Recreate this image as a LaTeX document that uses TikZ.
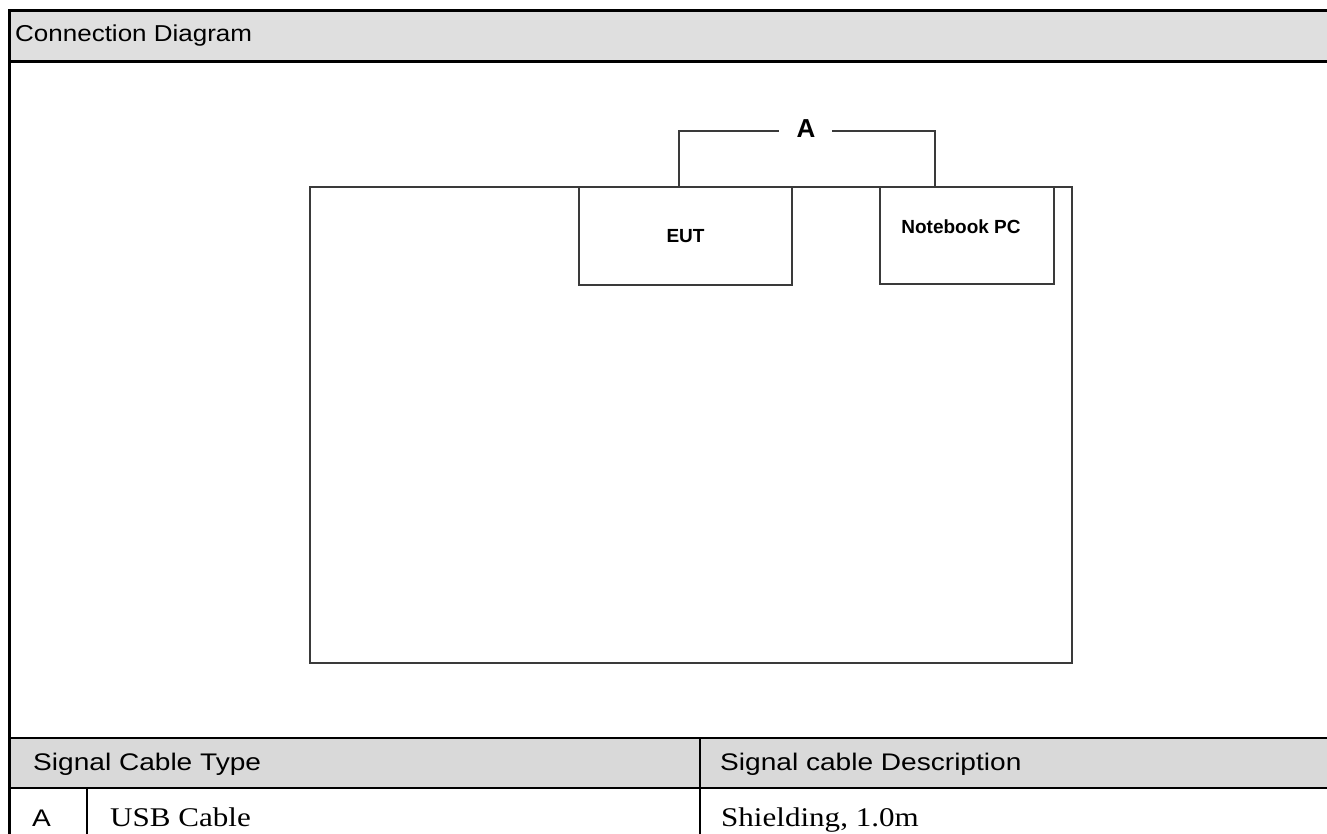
\documentclass[tikz,border=0pt]{standalone}
\usepackage{graphicx}
\usepackage{fontspec}
\setmainfont{Liberation Serif}
\setsansfont{Liberation Sans}
\usetikzlibrary{positioning}
\definecolor{hdrgray}{HTML}{DFDFDF}
\definecolor{tblgray}{HTML}{D9D9D9}
\definecolor{boxgray}{HTML}{3A3A3A}
\newcommand{\wide}[2][1.17]{\scalebox{#1}[1]{#2}}
\tikzset{
  cable/.style={draw=boxgray,line width=1.5pt},
  rule/.style={draw=black,line width=2.2pt},
  celltext/.style={anchor=base west,inner sep=0pt,font=\sffamily\fontsize{24}{28}\selectfont},
  celldata/.style={anchor=base west,inner sep=0pt,font=\rmfamily\fontsize{27}{30}\selectfont},
}
\begin{document}
\begin{tikzpicture}[x=1pt,y=-1pt]
        \useasboundingbox (0,0) rectangle (1327,834);
        % bands
        \fill[hdrgray] (10,11) rectangle (1327,61);
        \fill[tblgray] (10,738) rectangle (1327,788);
        % frame and table rules
        \draw[line width=3pt] (9.5,834) -- (9.5,11) -- (1327,11);
        \draw[rule] (10,61.5) -- (1327,61.5);
        \draw[rule] (10,738) -- (1327,738);
        \draw[rule] (10,788) -- (1327,788);
        \draw[rule] (87,788) -- (87,834);
        \draw[rule] (700,738) -- (700,834);
        \node[anchor=base west,inner sep=0pt,font=\sffamily\fontsize{23}{26}\selectfont] (title) at (15,42) {\wide[1.13]{Connection Diagram}};
        \begin{scope}[every node/.style={draw=boxgray,line width=1.5pt,inner sep=0pt,font=\sffamily\bfseries\fontsize{19}{22}\selectfont}]
          \node[minimum width=762pt,minimum height=476pt] (bench) at (691,425) {};
          \node[minimum width=213pt,minimum height=98pt] (EUT) at (685.5,236) {EUT};
          \node[minimum width=174pt,minimum height=97pt] (PC) at (967,235.5) {};
        \end{scope}
        \node[inner sep=0pt,font=\sffamily\bfseries\fontsize{19}{22}\selectfont] (PClabel) at (961,227) {Notebook PC};
        \node[anchor=base,inner sep=0pt,font=\sffamily\bfseries\fontsize{26}{28}\selectfont] (A) at (806,138) {A};
        \coordinate (eutport) at (679,187);
        \coordinate (pcport) at (935,187);
        \coordinate (aL) at (779,131);
        \coordinate (aR) at (832,131);
        \draw[cable] (eutport) |- (aL);
        \draw[cable] (aR) -| (pcport);
        % table cells
        \node[celltext] (typehead) at (33,770) {\wide{Signal Cable Type}};
        \node[celltext] (deschead) at (720,770) {\wide{Signal cable Description}};
        \node[celltext] (typeA) at (32,826) {\wide{A}};
        \node[celldata] (typeAname) at (110,826) {\wide[1.15]{USB Cable}};
        \node[celldata] (typeAdesc) at (721,826) {\wide[1.15]{Shielding, 1.0m}};
\end{tikzpicture}
\end{document}
